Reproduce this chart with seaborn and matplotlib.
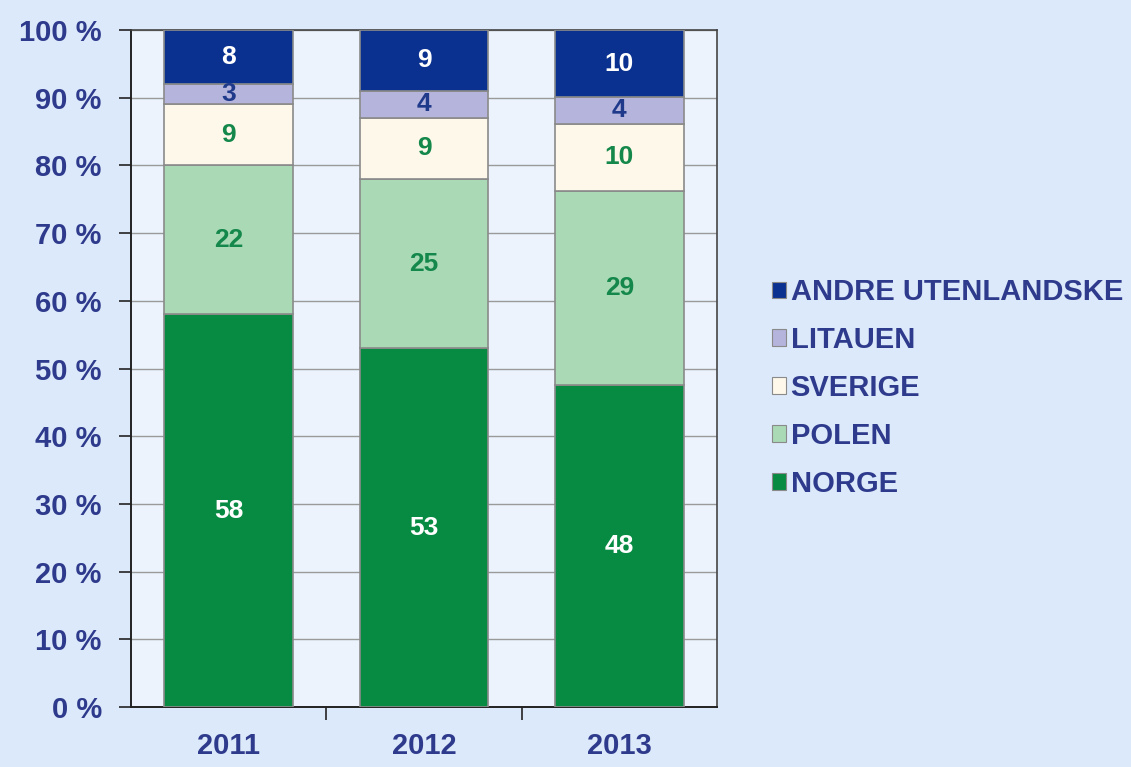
import matplotlib
matplotlib.use("Agg")
import matplotlib.pyplot as plt
import numpy as np
import pandas as pd
import seaborn as sns
from matplotlib.patches import Patch

# Shares (%) of catch by nationality per year
years = ["2011", "2012", "2013"]
series_names = ["NORGE", "POLEN", "SVERIGE", "LITAUEN", "ANDRE UTENLANDSKE"]
norge = [58, 53, 48]
polen = [22, 25, 29]
sverige = [9, 9, 10]
litauen = [3, 4, 4]
andre = [8, 9, 10]
y_ticks = [0, 10, 20, 30, 40, 50, 60, 70, 80, 90, 100]
y_tick_labels = [f"{t} %" for t in y_ticks]

values = [norge, polen, sverige, litauen, andre]
fill_colors = ["#078b43", "#a9d9b5", "#fdf8ea", "#b4b4dc", "#0b3190"]
label_colors = ["white", "#14874a", "#14874a", "#1f3a8a", "white"]
text_navy = "#2e3a8c"

sns.set_theme(style="white")
plt.rcParams["font.family"] = ["Liberation Sans", "DejaVu Sans"]
plt.rcParams["font.weight"] = "bold"

fig = plt.figure(figsize=(11.31, 7.67), dpi=100)
fig.patch.set_facecolor("#dce9fa")
ax = fig.add_axes([131 / 1131, 1 - 707 / 767, (717 - 131) / 1131, (707 - 30) / 767])
ax.set_facecolor("#ecf3fd")

# Build a long table, normalised so each year stacks to 100 %
rows = []
for name, vals in zip(series_names, values):
    for yr, v in zip(years, vals):
        rows.append({"year": yr, "series": name, "value": v})
df = pd.DataFrame(rows)
totals = df.groupby("year")["value"].transform("sum")
df["share"] = df["value"] / totals * 100

bottom = np.zeros(len(years))
for name, fc, lc in zip(series_names, fill_colors, label_colors):
    sub = df[df["series"] == name].set_index("year").loc[years].reset_index()
    sns.barplot(data=sub, x="year", y="share", order=years, color=fc,
                width=0.66, bottom=bottom, edgecolor="#8a8a8a", linewidth=1.2,
                saturation=1, ax=ax, zorder=3, errorbar=None)
    for i, (s, v) in enumerate(zip(sub["share"], sub["value"])):
        ax.text(i, bottom[i] + s / 2, f"{v}", ha="center", va="center",
                color=lc, fontsize=19, fontweight="bold", zorder=5)
    bottom = bottom + sub["share"].to_numpy()

ax.set_ylim(0, 100)
ax.set_xlim(-0.5, 2.5)
ax.set_yticks(y_ticks)
ax.set_yticklabels(y_tick_labels)
ax.yaxis.grid(True, color="#9a9a9a", linewidth=1)
ax.set_axisbelow(True)
ax.set_xlabel("")
ax.set_ylabel("")

ax.tick_params(axis="y", which="both", left=True, length=9, width=1.2,
               color="#222222", labelsize=21, labelcolor=text_navy, pad=12)
ax.tick_params(axis="x", which="major", bottom=False, labelsize=21,
               labelcolor=text_navy, pad=12)
ax.set_xticks([0.5, 1.5], minor=True)
ax.set_xticks(range(len(years)))
ax.set_xticklabels(years)
ax.tick_params(axis="x", which="minor", bottom=True, length=9, width=1.2,
               color="#222222")
for lab in ax.get_xticklabels() + ax.get_yticklabels():
    lab.set_fontweight("bold")

for side in ["left", "bottom"]:
    ax.spines[side].set_color("#222222")
    ax.spines[side].set_linewidth(1.4)
for side in ["top", "right"]:
    ax.spines[side].set_color("#444444")
    ax.spines[side].set_linewidth(1.2)

handles = [Patch(facecolor=c, edgecolor="#8a8a8a", linewidth=0.8)
           for c in fill_colors]
leg = fig.legend(handles[::-1], series_names[::-1], loc="center left",
                 bbox_to_anchor=(760 / 1131, 1 - 388 / 767), frameon=False,
                 fontsize=21, handlelength=0.5, handleheight=0.5,
                 handletextpad=0.15, labelspacing=0.68, borderaxespad=0)
for t in leg.get_texts():
    t.set_color(text_navy)
    t.set_fontweight("bold")

fig.savefig("out.png", dpi=100, facecolor=fig.get_facecolor())
